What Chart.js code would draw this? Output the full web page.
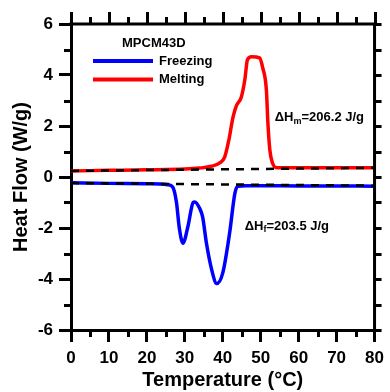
<!DOCTYPE html>
<html><head><meta charset="utf-8">
<script src="https://cdn.jsdelivr.net/npm/chart.js@4.4.0/dist/chart.umd.min.js"></script>
<style>html,body{margin:0;padding:0;background:#fff;}canvas{display:block;}</style>
</head><body>
<canvas id="c" width="390" height="392"></canvas>
<script>
// ---- data ----
const freezingT  = [0, 10, 20, 23.4, 25.5, 26.8, 27.8, 28.5, 29.5, 30.8, 32.2, 32.6, 33.9, 34.7, 35.7, 37.1, 38.4, 40.0, 41.8, 43.2, 44.0, 46, 60, 80];
const freezingHF = [-0.23, -0.25, -0.26, -0.27, -0.3, -0.39, -1.0, -1.95, -2.6, -1.95, -1.0, -0.98, -1.23, -1.57, -2.6, -3.65, -4.18, -3.76, -2.2, -0.63, -0.36, -0.34, -0.35, -0.36];
const meltingT   = [0, 10, 20, 30, 33.9, 37, 39.2, 40.5, 41.6, 42.7, 43.6, 44.9, 45.8, 46.5, 47.6, 49.7, 50.5, 51.5, 51.9, 52.4, 53.1, 54.4, 60, 80];
const meltingHF  = [0.24, 0.26, 0.28, 0.31, 0.35, 0.42, 0.55, 0.78, 1.45, 2.35, 2.8, 3.14, 3.8, 4.6, 4.72, 4.67, 4.3, 3.4, 2.1, 1.06, 0.55, 0.36, 0.36, 0.36];
const baselineT  = [0, 80];
const freezingBaseHF = [-0.24, -0.34];
const meltingBaseHF  = [0.24, 0.36];
const seriesNames = ['Freezing', 'Melting'];
const legendTitle = 'MPCM43D';
const xTickValues = [0, 10, 20, 30, 40, 50, 60, 70, 80];
const yTickValues = [-6, -4, -2, 0, 2, 4, 6];
const xTitle = 'Temperature (°C)';
const yTitle = 'Heat Flow (W/g)';
const enthalpyLabels = [
  {main: 'ΔH', sub: 'm', rest: '=206.2 J/g', atT: 53.7, atHF: 2.35},
  {main: 'ΔH', sub: 'f', rest: '=203.5 J/g', atT: 45.8, atHF: -1.92}
];

const FONT = "'Liberation Sans', Arial, Helvetica, sans-serif";
const pts = (xs, ys) => xs.map((x, i) => ({x: x, y: ys[i]}));

const decor = {
  id: 'decor',
  afterDraw(chart) {
    const ctx = chart.ctx, a = chart.chartArea;
    const xs = chart.scales.x, ys = chart.scales.y;
    ctx.save();
    ctx.strokeStyle = '#000';
    ctx.lineWidth = 3;
    ctx.lineCap = 'butt';
    ctx.beginPath();
    ctx.moveTo(a.left - 1.5, a.top); ctx.lineTo(a.right + 1.5, a.top);
    ctx.moveTo(a.right, a.top); ctx.lineTo(a.right, a.bottom);
    ctx.stroke();
    for (let v = 0; v <= 80; v += 5) {
      const px = Math.round(xs.getPixelForValue(v)) + 0.5;
      const major = v % 10 === 0;
      ctx.beginPath();
      if (!major) { ctx.moveTo(px, a.bottom); ctx.lineTo(px, a.bottom + 7); }
      ctx.moveTo(px, a.top); ctx.lineTo(px, a.top - (major ? 12 : 7));
      ctx.stroke();
    }
    for (let v = -6; v <= 6; v += 1) {
      const py = Math.round(ys.getPixelForValue(v)) + 0.5;
      const major = v % 2 === 0;
      ctx.beginPath();
      if (!major) { ctx.moveTo(a.left, py); ctx.lineTo(a.left - 7, py); }
      ctx.moveTo(a.right, py); ctx.lineTo(a.right + 7, py);
      ctx.stroke();
    }
    ctx.fillStyle = '#000';
    ctx.textBaseline = 'middle';
    ctx.textAlign = 'left';
    ctx.font = 'bold 13px ' + FONT;
    ctx.fillText(legendTitle, 122, 43);
    const ds = chart.data.datasets;
    [0, 1].forEach((i) => {
      const y = 61 + i * 18.5;
      ctx.strokeStyle = ds[i].borderColor;
      ctx.lineWidth = 4;
      ctx.beginPath(); ctx.moveTo(93, y); ctx.lineTo(153, y); ctx.stroke();
      ctx.fillText(ds[i].label, 159, y);
    });
    enthalpyLabels.forEach((l) => {
      let x = xs.getPixelForValue(l.atT);
      const y = ys.getPixelForValue(l.atHF);
      ctx.font = 'bold 13px ' + FONT;
      ctx.fillText(l.main, x, y);
      x += ctx.measureText(l.main).width;
      ctx.font = 'bold 9px ' + FONT;
      ctx.fillText(l.sub, x, y + 4);
      x += ctx.measureText(l.sub).width;
      ctx.font = 'bold 13px ' + FONT;
      ctx.fillText(l.rest, x, y);
    });
    ctx.restore();
  }
};

new Chart(document.getElementById('c'), {
  type: 'line',
  data: {
    datasets: [
      {label: seriesNames[0], data: pts(freezingT, freezingHF), borderColor: '#0000ff', borderWidth: 3.5, pointRadius: 0, cubicInterpolationMode: 'monotone', order: 1},
      {label: seriesNames[1], data: pts(meltingT, meltingHF), borderColor: '#ff0000', borderWidth: 3.5, pointRadius: 0, cubicInterpolationMode: 'monotone', order: 1},
      {label: 'base f', data: pts(baselineT, freezingBaseHF), borderColor: '#000', borderWidth: 2.5, borderDash: [8, 7], pointRadius: 0, order: 0},
      {label: 'base m', data: pts(baselineT, meltingBaseHF), borderColor: '#000', borderWidth: 2.5, borderDash: [8, 7], pointRadius: 0, order: 0}
    ]
  },
  options: {
    responsive: false,
    animation: false,
    devicePixelRatio: 1,
    layout: {padding: {top: 24, right: 15, left: 0, bottom: 0}},
    plugins: {legend: {display: false}, tooltip: {enabled: false}},
    scales: {
      x: {
        type: 'linear', min: 0, max: 80,
        afterFit: (s) => { s.height = 62; },
        afterBuildTicks: (s) => { s.ticks = xTickValues.map(v => ({value: v})); },
        ticks: {color: '#000', font: {family: FONT, size: 17, weight: 'bold'}, padding: 6, maxRotation: 0, autoSkip: false},
        grid: {drawOnChartArea: false, drawTicks: true, tickLength: 12, tickWidth: 3, tickColor: '#000'},
        border: {display: true, width: 3, color: '#000'},
        title: {display: true, text: xTitle, color: '#000', font: {family: FONT, size: 20, weight: 'bold'}, padding: {top: 0, bottom: 0}}
      },
      y: {
        type: 'linear', min: -6, max: 6,
        afterFit: (s) => { s.width = 71; },
        afterBuildTicks: (s) => { s.ticks = yTickValues.map(v => ({value: v})); },
        ticks: {color: '#000', font: {family: FONT, size: 17, weight: 'bold'}, padding: 6, autoSkip: false},
        grid: {drawOnChartArea: false, drawTicks: true, tickLength: 12, tickWidth: 3, tickColor: '#000'},
        border: {display: true, width: 3, color: '#000'},
        title: {display: true, text: yTitle, color: '#000', font: {family: FONT, size: 20, weight: 'bold'}, padding: {top: 9, bottom: 0}}
      }
    }
  },
  plugins: [decor]
});
</script>
</body></html>
